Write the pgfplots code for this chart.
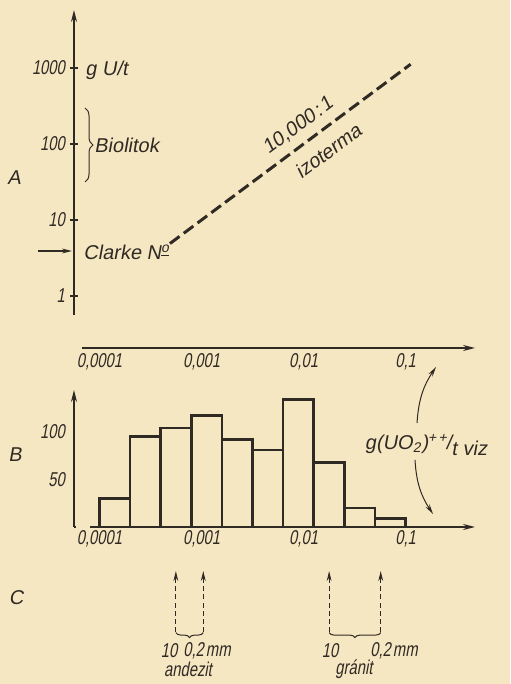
\documentclass[border=0pt]{standalone}
\usepackage{pgfplots}
\pgfplotsset{compat=1.18}
\usepackage{fontspec}
\setmainfont{Liberation Sans}[FakeSlant=0.18]
\newfontfamily\numfont{Liberation Sans}[FakeSlant=0.18,FakeStretch=0.74]
\usetikzlibrary{arrows.meta,decorations.pathreplacing}
\definecolor{paper}{RGB}{246,231,195}
\definecolor{ink}{RGB}{48,42,36}
\pgfplotsset{
  myax/.style={
    scale only axis, width=200.5pt,
    xmin=5.623e-5, xmax=0.4786,
    axis x line*=bottom, axis y line*=left,
    axis line style={ink, line width=0.7pt},
    xtick={1e-4,1e-3,1e-2,1e-1},
    xticklabels={{0,0001},{0,001},{0,01},{0,1}},
    xminorticks=false, yminorticks=false,
    x tick style={draw=none},
    tick label style={font=\numfont\normalsize, text=ink},
    clip=false,
  },
}
\tikzset{carrow/.style={ink, dash pattern=on 2.5pt off 1.6pt, line width=0.5pt, -{Stealth[length=5pt,width=2.4pt]}}}
\begin{document}
\begin{tikzpicture}[x=0.5pt,y=0.5pt]
\fill[paper] (0,0) rectangle (510,684);
% ---------- A ----------
\begin{axis}[xmode=log, ymode=log, myax, at={(37pt,168pt)}, anchor=south west,
  height=169pt, ymin=0.207, ymax=5794,
  x axis line style={-{Stealth[length=6pt,width=3pt]}, shorten <=4pt},
  y axis line style={-{Stealth[length=6pt,width=3pt]}, shorten <=16.5pt},
  ytick={1,10,100,1000}, yticklabels={1,10,100,1000},
  y tick style={ink, line width=0.6pt}, tick align=center, major tick length=4pt,
  xticklabel style={yshift=3pt},
  yticklabel style={xshift=1pt},
]
\addplot[ink, line width=1.5pt, dash pattern=on 6pt off 2.6pt, mark=none]
  coordinates {(4.9e-4,4.9) (0.112,1120)};
\end{axis}
% ---------- B ----------
\begin{axis}[xmode=log, myax, at={(37pt,78.5pt)}, anchor=south west,
  height=68.5pt, ymin=0, ymax=144,
  x axis line style={-{Stealth[length=6pt,width=3pt]}, shorten <=8pt},
  y axis line style={-{Stealth[length=6pt,width=3pt]}},
  ytick={50,100}, yticklabels={50,100}, y tick style={draw=none},
  xticklabel style={yshift=2pt},
  yticklabel style={xshift=-1pt},
]
\addplot[ybar interval, draw=ink, fill=none, line width=1.3pt, mark=none]
  coordinates {(1e-4,30) (1.995e-4,95) (3.981e-4,104) (7.943e-4,117.5)
   (1.585e-3,92) (3.162e-3,81) (6.310e-3,134) (1.259e-2,68)
   (2.512e-2,20) (5.012e-2,9) (0.1,0)};
% C arrows
\draw[carrow] (axis cs:5.6e-4,-110.5) -- (axis cs:5.6e-4,-46.3);
\draw[carrow] (axis cs:1.04e-3,-110.5) -- (axis cs:1.04e-3,-46.3);
\draw[carrow] (axis cs:0.0178,-110.5) -- (axis cs:0.0178,-46.3);
\draw[carrow] (axis cs:0.057,-110.5) -- (axis cs:0.057,-46.3);
\draw[ink, line width=0.5pt, decorate, decoration={brace, mirror, amplitude=2.5pt}]
  (axis cs:5.6e-4,-111) -- (axis cs:1.04e-3,-111);
\draw[ink, line width=0.5pt, decorate, decoration={brace, mirror, amplitude=2.5pt}]
  (axis cs:0.0178,-111) -- (axis cs:0.057,-111);
\draw[ink, line width=0.6pt] (axis cs:5.9e-5,0) -- (axis cs:5.623e-5,0);
\end{axis}
% ---------- texts ----------
\begin{scope}[every node/.style={text=ink, inner sep=0pt}]
\node at (14,506) {A};
\node at (15,229) {B};
\node at (16,86) {C};
\node[anchor=west] at (85,614) {g U/t};
\draw[ink, line width=0.5pt, decorate, decoration={brace, amplitude=4pt}] (85,576) -- (85,502);
\node[anchor=west] at (94,539) {Biolitok};
\draw[ink, line width=0.6pt, -{Stealth[length=5pt,width=2.4pt]}] (38,433) -- (72,433);
\node[anchor=west] at (83,432) {Clarke N\textsuperscript{\underline{o}}};
\node[rotate=36.6] at (298,558) {10,000\kern1pt:\kern1pt1};
\node[rotate=36.6] at (328,533) {izoterma};
\node at (426,239) {g(UO\textsubscript{2})\textsuperscript{+\,+}\kern-1pt/\raisebox{-3pt}{t viz}};
\draw[ink, line width=0.5pt, -{Stealth[length=5pt,width=2.4pt]}] (417,261) to[bend left=15] (436,317);
\draw[ink, line width=0.5pt, -{Stealth[length=5pt,width=2.4pt]}] (415,224) to[bend right=15] (433,170);
\node at (169,33) {\numfont 10};
\node[anchor=west] at (183,33) {\numfont 0,2\kern1pt mm};
\node at (188,15) {\numfont andezit};
\node at (330,33) {\numfont 10};
\node[anchor=west] at (370,33) {\numfont 0,2\kern1pt mm};
\node at (354,15) {\numfont gránit};
\end{scope}
\end{tikzpicture}
\end{document}
